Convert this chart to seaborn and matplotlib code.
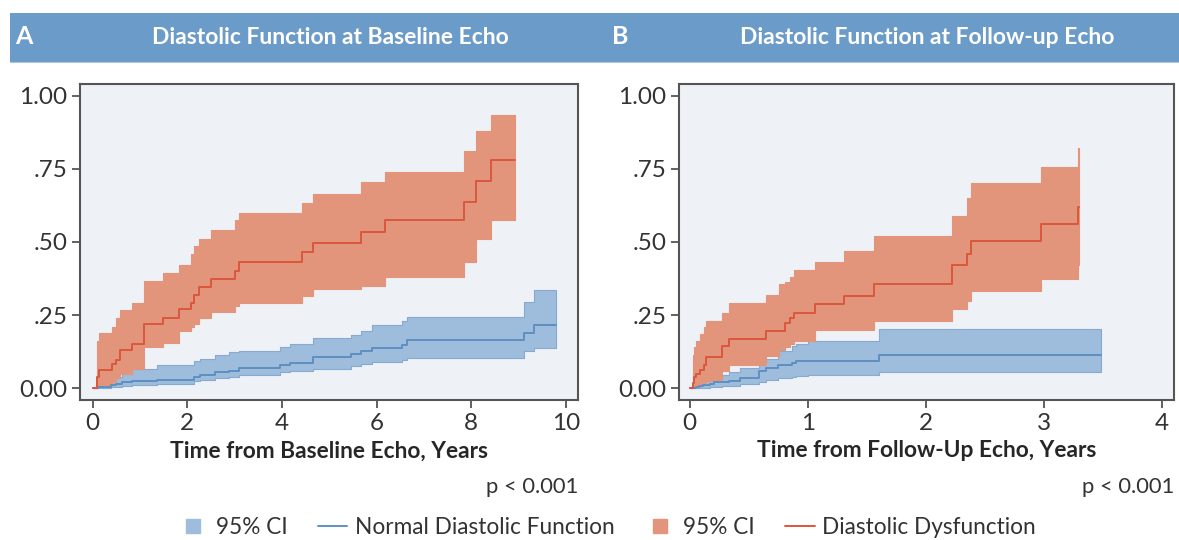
import numpy as np
import pandas as pd
import seaborn as sns
import matplotlib
matplotlib.use("Agg")
from matplotlib import pyplot as plt
from matplotlib.patches import Rectangle
from matplotlib.lines import Line2D

# ---- panel A: baseline echo ----
a_dd_time = [0, 0.08, 0.13, 0.41, 0.49, 0.57, 0.82, 1.08, 1.49, 1.82, 2.07, 2.15, 2.24, 2.49,
             3.0, 3.09, 4.42, 4.66, 5.68, 6.17, 7.84, 8.1, 8.42, 8.92]
a_dd_est = [0, 0.04, 0.064, 0.083, 0.098, 0.13, 0.15, 0.22, 0.24, 0.27, 0.29, 0.32, 0.345, 0.374,
            0.40, 0.43, 0.466, 0.497, 0.534, 0.574, 0.636, 0.71, 0.78, 0.78]
a_dd_hi = [0, 0.163, 0.19, 0.21, 0.24, 0.266, 0.29, 0.366, 0.395, 0.42, 0.46, 0.486, 0.51, 0.54,
           0.574, 0.60, 0.634, 0.665, 0.705, 0.74, 0.81, 0.88, 0.934, 0.934]
a_dd_lo = [0, 0.005, 0.01, 0.02, 0.035, 0.05, 0.065, 0.14, 0.155, 0.195, 0.21, 0.22, 0.24, 0.26,
           0.28, 0.29, 0.315, 0.34, 0.35, 0.38, 0.43, 0.51, 0.574, 0.574]

a_nd_time = [0, 0.11, 0.39, 0.5, 0.61, 0.68, 0.82, 1.35, 2.15, 2.26, 2.58, 2.89, 3.1, 3.95,
             4.16, 4.65, 5.46, 5.67, 5.91, 6.54, 6.65, 9.11, 9.33, 9.8]
a_nd_est = [0, 0.005, 0.012, 0.016, 0.02, 0.022, 0.025, 0.03, 0.04, 0.045, 0.055, 0.06, 0.07, 0.08,
            0.085, 0.107, 0.117, 0.126, 0.138, 0.149, 0.164, 0.189, 0.218, 0.218]
a_nd_hi = [0, 0.013, 0.03, 0.04, 0.052, 0.058, 0.065, 0.08, 0.092, 0.10, 0.113, 0.124, 0.128, 0.14,
           0.15, 0.172, 0.183, 0.195, 0.215, 0.23, 0.245, 0.295, 0.337, 0.337]
a_nd_lo = [0, 0.001, 0.003, 0.005, 0.008, 0.009, 0.01, 0.015, 0.025, 0.028, 0.035, 0.04, 0.045, 0.055,
           0.06, 0.067, 0.075, 0.082, 0.091, 0.097, 0.105, 0.126, 0.138, 0.138]

# ---- panel B: follow-up echo ----
b_dd_time = [0, 0.03, 0.04, 0.056, 0.085, 0.12, 0.135, 0.27, 0.33, 0.65, 0.76, 0.81, 0.85, 0.88,
             1.06, 1.31, 1.56, 2.22, 2.35, 2.38, 2.97, 3.29, 3.30]
b_dd_est = [0, 0.018, 0.04, 0.05, 0.064, 0.08, 0.106, 0.144, 0.167, 0.195, 0.195, 0.224, 0.24, 0.258,
            0.287, 0.315, 0.356, 0.42, 0.46, 0.505, 0.56, 0.62, 0.62]
b_dd_hi = [0, 0.115, 0.14, 0.16, 0.184, 0.21, 0.23, 0.258, 0.292, 0.32, 0.355, 0.365, 0.38, 0.406,
           0.43, 0.47, 0.52, 0.59, 0.65, 0.70, 0.755, 0.82, 0.82]
b_dd_lo = [0, 0.0, 0.003, 0.006, 0.01, 0.015, 0.025, 0.06, 0.08, 0.11, 0.13, 0.14, 0.15, 0.16,
           0.2, 0.2, 0.23, 0.27, 0.30, 0.333, 0.373, 0.42, 0.42]

b_nd_time = [0, 0.05, 0.08, 0.11, 0.17, 0.21, 0.27, 0.33, 0.43, 0.59, 0.65, 0.75, 0.87, 0.90,
             1.0, 1.6, 3.48]
b_nd_est = [0, 0.003, 0.008, 0.012, 0.016, 0.02, 0.022, 0.025, 0.035, 0.06, 0.07, 0.08, 0.088, 0.094,
            0.094, 0.114, 0.114]
b_nd_hi = [0, 0.008, 0.013, 0.025, 0.035, 0.04, 0.047, 0.055, 0.07, 0.085, 0.1, 0.128, 0.145, 0.15,
           0.162, 0.202, 0.202]
b_nd_lo = [0, 0.0, 0.001, 0.002, 0.004, 0.006, 0.007, 0.008, 0.015, 0.022, 0.03, 0.035, 0.04, 0.042,
           0.047, 0.057, 0.057]

y_ticks = [0, 0.25, 0.5, 0.75, 1.0]
y_labels = ["0.00", ".25", ".50", ".75", "1.00"]

BAND = "#6b9bc8"
FACE = "#eef1f6"
TXT = "#333333"
OR_FILL = "#e2957a"
OR_LINE = "#d9573d"
BL_FILL = "#9ebcdb"
BL_EDGE = "#86aad2"
BL_LINE = "#5f8fc2"

sns.set_theme(style="ticks")
plt.rcParams["font.family"] = ["Lato", "DejaVu Sans"]
plt.rcParams["axes.edgecolor"] = "#555555"
plt.rcParams["text.color"] = TXT
plt.rcParams["xtick.color"] = "#555555"
plt.rcParams["ytick.color"] = "#555555"
plt.rcParams["xtick.labelcolor"] = TXT
plt.rcParams["ytick.labelcolor"] = TXT

fig = plt.figure(figsize=(11.79, 5.40), dpi=100)
ax_a = fig.add_axes([80 / 1179, 1 - 400 / 540, 498 / 1179, 316 / 540])
ax_b = fig.add_axes([679 / 1179, 1 - 400 / 540, 495 / 1179, 316 / 540])


def km_panel(ax, curves, xlim, xticks, xlabel):
    ax.set_facecolor(FACE)
    for t, est, lo, hi, fill, edge, line in curves:
        ax.fill_between(t, lo, hi, step="post", facecolor=fill, edgecolor=edge,
                        linewidth=0.8, zorder=2)
        df = pd.DataFrame({"t": t, "est": est})
        sns.lineplot(data=df, x="t", y="est", ax=ax, color=line, linewidth=1.4,
                     drawstyle="steps-post", estimator=None, zorder=3)
    ax.set_xlim(*xlim)
    ax.set_ylim(-0.04, 1.04)
    ax.set_xticks(xticks)
    ax.set_xticklabels([str(v) for v in xticks], fontsize=17.5)
    ax.set_yticks(y_ticks)
    ax.set_yticklabels(y_labels, fontsize=17.5)
    ax.tick_params(length=6, width=1.3, pad=3)
    for s in ax.spines.values():
        s.set_linewidth(1.5)
        s.set_color("#555555")
    ax.set_xlabel(xlabel, fontsize=16.4, fontweight="bold", labelpad=5)
    ax.set_ylabel("")
    ax.text(1.0, -0.275, "p < 0.001", transform=ax.transAxes, ha="right", va="center",
            fontsize=15.8)


km_panel(ax_a,
         [(a_nd_time, a_nd_est, a_nd_lo, a_nd_hi, BL_FILL, BL_EDGE, BL_LINE),
          (a_dd_time, a_dd_est, a_dd_lo, a_dd_hi, OR_FILL, OR_FILL, OR_LINE)],
         (-0.27, 10.26), [0, 2, 4, 6, 8, 10], "Time from Baseline Echo, Years")
km_panel(ax_b,
         [(b_nd_time, b_nd_est, b_nd_lo, b_nd_hi, BL_FILL, BL_EDGE, BL_LINE),
          (b_dd_time, b_dd_est, b_dd_lo, b_dd_hi, OR_FILL, OR_FILL, OR_LINE)],
         (-0.09, 4.1), [0, 1, 2, 3, 4], "Time from Follow-Up Echo, Years")

# header band
fig.patches.append(Rectangle((10 / 1179, 1 - 62 / 540), 1169 / 1179, 49 / 540,
                             transform=fig.transFigure, facecolor=BAND, edgecolor="none"))
fig.patches.append(Rectangle((10 / 1179, 1 - 63 / 540), 1169 / 1179, 1.5 / 540,
                             transform=fig.transFigure, facecolor="#a9c6e2", edgecolor="none"))
hy = 1 - 37 / 540
fig.text(15 / 1179, hy, "A", color="white", fontsize=18, fontweight="bold", va="center")
fig.text(330 / 1179, hy, "Diastolic Function at Baseline Echo", color="white",
         fontsize=16.5, fontweight="bold", ha="center", va="center")
fig.text(612 / 1179, hy, "B", color="white", fontsize=18, fontweight="bold", va="center")
fig.text(927 / 1179, hy, "Diastolic Function at Follow-up Echo", color="white",
         fontsize=16.5, fontweight="bold", ha="center", va="center")

handles = [
    Line2D([], [], linestyle="none", marker="s", markersize=10, markerfacecolor=BL_FILL,
           markeredgecolor=BL_FILL),
    Line2D([], [], color=BL_LINE, linewidth=1.4),
    Line2D([], [], linestyle="none", marker="s", markersize=10, markerfacecolor=OR_FILL,
           markeredgecolor=OR_FILL),
    Line2D([], [], color=OR_LINE, linewidth=1.4),
]
labels = ["95% CI", "Normal Diastolic Function", "95% CI", "Diastolic Dysfunction"]
fig.legend(handles, labels, loc="center", bbox_to_anchor=(0.515, 1 - 527 / 540), ncol=4,
           frameon=False, fontsize=16.3, handlelength=1.3, handletextpad=0.35,
           columnspacing=1.35)

fig.savefig("out.png", dpi=100, facecolor="white")
